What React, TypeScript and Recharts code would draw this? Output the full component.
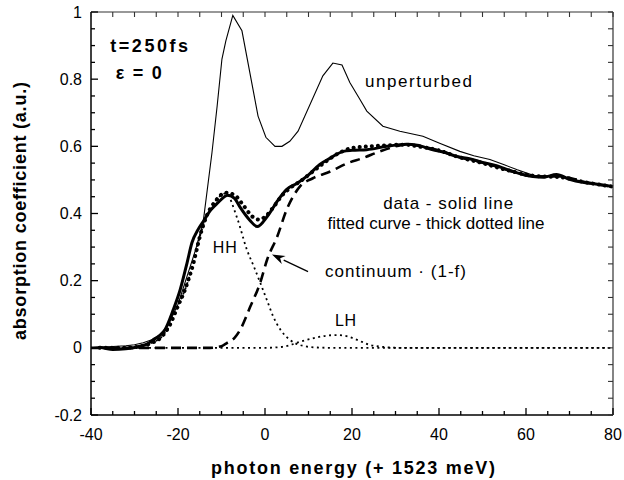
import { LineChart, Line, XAxis, YAxis, ReferenceDot, ReferenceLine } from "recharts";

const FONT = '"Liberation Sans", Arial, Helvetica, sans-serif';

// photon energy (meV above 1523 meV) vs absorption coefficient (a.u.)
const unperturbed: [number, number][] = [
  [-40, 0.0], [-38, 0.003], [-35, 0.004], [-32, 0.006], [-30, 0.009], [-28, 0.015],
  [-26, 0.024], [-24, 0.038], [-22, 0.075], [-20, 0.13], [-18, 0.21], [-16, 0.29],
  [-14.2, 0.376], [-12.2, 0.58], [-11, 0.72], [-9.9, 0.86], [-9, 0.914], [-7.4, 0.99],
  [-5.3, 0.944], [-1.6, 0.69], [0.2, 0.627], [2.3, 0.6], [3.9, 0.6], [5.7, 0.615],
  [7.6, 0.645], [13.3, 0.81], [15.6, 0.848], [17.7, 0.842], [19.5, 0.79], [21.8, 0.74],
  [23.4, 0.705], [27.1, 0.66], [31, 0.645], [36.3, 0.63], [40, 0.61], [44.8, 0.585],
  [48, 0.572], [51.7, 0.561], [55, 0.545], [58, 0.53], [62, 0.512], [65, 0.512],
  [67, 0.516], [70, 0.502], [73, 0.493], [76, 0.489], [80, 0.48],
];

const measured: [number, number][] = [
  [-38, 0.002], [-35, -0.005], [-32, -0.003], [-29, 0.004], [-27, 0.012], [-25.7, 0.024],
  [-24.3, 0.036], [-23, 0.054], [-21.1, 0.113], [-19.5, 0.173], [-17.9, 0.254],
  [-16.8, 0.313], [-15.4, 0.352], [-14.2, 0.376], [-12.5, 0.41], [-11, 0.43],
  [-8.5, 0.454], [-7, 0.445], [-5.7, 0.418], [-3.5, 0.38], [-1.8, 0.361], [0.5, 0.391],
  [3, 0.44], [5, 0.472], [7.4, 0.49], [10, 0.515], [12.6, 0.546], [15, 0.565],
  [18, 0.585], [20, 0.588], [23.4, 0.59], [28, 0.6], [32.6, 0.606], [35, 0.603],
  [38.6, 0.59], [41, 0.583], [44, 0.57], [47, 0.563], [50, 0.552], [53, 0.543],
  [57, 0.525], [61.6, 0.51], [64, 0.508], [67, 0.516], [70, 0.502], [73, 0.493],
  [76, 0.488], [80, 0.48],
];

const fitted: [number, number][] = [
  [-38, 0.0], [-34, 0.0], [-30, 0.002], [-28, 0.006], [-26, 0.015], [-24, 0.03],
  [-22, 0.065], [-20, 0.125], [-18.4, 0.173], [-16.5, 0.25], [-15, 0.33], [-13.5, 0.39],
  [-11.5, 0.435], [-9, 0.462], [-7, 0.455], [-5, 0.425], [-3, 0.392], [-1.5, 0.382],
  [0, 0.39], [2, 0.42], [4, 0.455], [6, 0.478], [8, 0.495], [11, 0.525], [14, 0.555],
  [17, 0.58], [20, 0.595], [24, 0.6], [28, 0.603], [32, 0.605], [36, 0.598],
  [40, 0.588], [44, 0.57], [50, 0.55], [56, 0.528], [62, 0.512], [68, 0.508],
  [74, 0.492], [80, 0.48],
];

const continuum: [number, number][] = [
  [-40, 0], [-20, 0], [-12.6, 0], [-10, 0.005], [-8.7, 0.015], [-7, 0.03], [-5.7, 0.054],
  [-3.4, 0.122], [-1.1, 0.194], [0.5, 0.263], [2.8, 0.331], [5, 0.412], [8, 0.48],
  [11, 0.505], [15, 0.525], [19, 0.55], [22.5, 0.565], [26.4, 0.585], [30, 0.6],
  [33, 0.606], [36, 0.6], [40, 0.588], [44, 0.57], [50, 0.552], [57, 0.525],
  [62, 0.51], [68, 0.51], [74, 0.492], [80, 0.48],
];

const hhExciton: [number, number][] = [
  [-40, 0], [-34, 0], [-30, 0.002], [-28, 0.006], [-26, 0.015], [-24, 0.03], [-22, 0.065],
  [-20, 0.125], [-18.4, 0.173], [-16.5, 0.25], [-15, 0.33], [-13.5, 0.39], [-11.5, 0.435],
  [-9, 0.46], [-6.5, 0.39], [-4.1, 0.29], [-2.5, 0.24], [-1.1, 0.194], [0.5, 0.14],
  [1.9, 0.093], [3.5, 0.055], [5.7, 0.024], [8.7, 0.006], [12, 0.001], [15, 0], [80, 0],
];

const lhExciton: [number, number][] = [
  [-40, 0], [0, 0], [4, 0.003], [6, 0.009], [8, 0.018], [11, 0.028], [14, 0.036],
  [16.6, 0.038], [19, 0.034], [21.5, 0.022], [24, 0.009], [27, 0.003], [31, 0], [80, 0],
];

const xTicks = [-40, -35, -30, -25, -20, -15, -10, -5, 0, 5, 10, 15, 20, 25, 30, 35, 40, 45, 50, 55, 60, 65, 70, 75, 80];
const xLabels = [-40, -20, 0, 20, 40, 60, 80];
const yTicks = [
  -0.2, -0.15, -0.1, -0.05, 0, 0.05, 0.1, 0.15, 0.2, 0.25, 0.3, 0.35, 0.4, 0.45,
  0.5, 0.55, 0.6, 0.65, 0.7, 0.75, 0.8, 0.85, 0.9, 0.95, 1,
];
const yLabels = [-0.2, 0, 0.2, 0.4, 0.6, 0.8, 1];

const X_MIN = -40;
const X_MAX = 80;
const Y_MIN = -0.2;
const Y_MAX = 1;

// chart geometry (plot box = 91..613 x 12..415)
const W = 624;
const H = 480;
const MARGIN = { top: 12, right: 11, bottom: 64, left: 90 };
const LEFT = MARGIN.left + 1;
const RIGHT = W - MARGIN.right;
const TOP = MARGIN.top;
const BOTTOM = H - MARGIN.bottom - 1;
const sx = (v: number) => LEFT + ((v - X_MIN) / (X_MAX - X_MIN)) * (RIGHT - LEFT);
const sy = (v: number) => TOP + ((Y_MAX - v) / (Y_MAX - Y_MIN)) * (BOTTOM - TOP);

const pts = (s: [number, number][]) => s.map(([x, y]) => ({ x, y }));

const isMajor = (list: number[], v: number) => list.some((m) => Math.abs(m - v) < 1e-9);

function bottomLabel(p: any) {
  if (!isMajor(xLabels, p.payload.value)) return <g />;
  return (
    <text x={p.x} y={p.y + 19} textAnchor="middle" dominantBaseline="central" fontSize={16} fontFamily={FONT} fill="#000">
      {p.payload.value}
    </text>
  );
}

function leftLabel(p: any) {
  if (!isMajor(yLabels, p.payload.value)) return <g />;
  return (
    <text x={p.x - 9} y={p.y} textAnchor="end" dominantBaseline="central" fontSize={16} fontFamily={FONT} fill="#000">
      {p.payload.value}
    </text>
  );
}

function note(x: number, y: number, text: string, width: number, opts: { bold?: boolean; size?: number; anchor?: string } = {}) {
  return (
    <ReferenceDot
      x={x}
      y={y}
      r={0}
      shape={(p: any) => (
        <text
          x={p.cx}
          y={p.cy}
          textAnchor={opts.anchor ?? "start"}
          dominantBaseline="central"
          fontSize={opts.size ?? 17}
          fontWeight={opts.bold ? "bold" : "normal"}
          fontFamily={FONT}
          fill="#000"
          textLength={width}
          lengthAdjust="spacing"
        >
          {text}
        </text>
      )}
    />
  );
}

function arrow(p: any) {
  const { x1, y1, x2, y2 } = p;
  const a = Math.atan2(y2 - y1, x2 - x1);
  const L = 13;
  const hw = 4.5;
  const bx = x2 - L * Math.cos(a);
  const by = y2 - L * Math.sin(a);
  const nx = -Math.sin(a) * hw;
  const ny = Math.cos(a) * hw;
  return (
    <g>
      <line x1={x1} y1={y1} x2={bx} y2={by} stroke="#000" strokeWidth={1.3} />
      <polygon
        points={`${x2},${y2} ${bx + nx},${by + ny} ${x2 - L * 0.7 * Math.cos(a)},${y2 - L * 0.7 * Math.sin(a)} ${bx - nx},${by - ny}`}
        fill="#000"
      />
    </g>
  );
}

// frame and inward ticks, drawn on top from the same tick arrays
function Frame() {
  return (
    <g>
      <line x1={LEFT} y1={TOP} x2={RIGHT} y2={TOP} stroke="#333" strokeWidth={1.2} />
      <line x1={RIGHT} y1={TOP} x2={RIGHT} y2={BOTTOM} stroke="#333" strokeWidth={1.2} />
      {xTicks.map((v) => {
        const len = isMajor(xLabels, v) ? 7 : 4;
        return (
          <g key={`x${v}`}>
            <line x1={sx(v)} y1={BOTTOM} x2={sx(v)} y2={BOTTOM - len} stroke="#000" strokeWidth={1.3} />
            <line x1={sx(v)} y1={TOP} x2={sx(v)} y2={TOP + 5} stroke="#333" strokeWidth={1.1} />
          </g>
        );
      })}
      {yTicks.map((v) => {
        const len = isMajor(yLabels, v) ? 7 : 4;
        return (
          <g key={`y${v}`}>
            <line x1={LEFT} y1={sy(v)} x2={LEFT + len} y2={sy(v)} stroke="#000" strokeWidth={1.3} />
            <line x1={RIGHT} y1={sy(v)} x2={RIGHT - 5} y2={sy(v)} stroke="#333" strokeWidth={1.1} />
          </g>
        );
      })}
    </g>
  );
}

export default function App() {
  return (
    <div style={{ position: "absolute", left: 0, top: 0, width: W, height: H, background: "#fff" }}>
      <LineChart width={W} height={H} margin={MARGIN}>
        <XAxis
          dataKey="x"
          type="number"
          domain={[X_MIN, X_MAX]}
          ticks={xTicks}
          interval={0}
          tickSize={0}
          tickMargin={0}
          tickLine={false}
          tick={bottomLabel}
          height={1}
          axisLine={{ stroke: "#000", strokeWidth: 1.5 }}
        />
        <YAxis
          type="number"
          domain={[Y_MIN, Y_MAX]}
          ticks={yTicks}
          interval={0}
          tickSize={0}
          tickMargin={0}
          tickLine={false}
          tick={leftLabel}
          width={1}
          axisLine={{ stroke: "#000", strokeWidth: 1.5 }}
        />

        {/* fit components */}
        <Line data={pts(continuum)} dataKey="y" type="monotone" stroke="#000" strokeWidth={2.6} strokeDasharray="10 6" dot={false} activeDot={false} isAnimationActive={false} />
        <Line data={pts(hhExciton)} dataKey="y" type="monotone" stroke="#000" strokeWidth={1.8} strokeDasharray="2 3.5" dot={false} activeDot={false} isAnimationActive={false} />
        <Line data={pts(lhExciton)} dataKey="y" type="monotone" stroke="#000" strokeWidth={1.8} strokeDasharray="2 3.5" strokeDashoffset={2.5} dot={false} activeDot={false} isAnimationActive={false} />

        {/* unperturbed spectrum: thin polyline */}
        <Line data={pts(unperturbed)} dataKey="y" type="linear" stroke="#000" strokeWidth={1.1} dot={false} activeDot={false} isAnimationActive={false} />

        {/* data (solid) and total fit (thick dotted) */}
        <Line data={pts(measured)} dataKey="y" type="monotone" stroke="#000" strokeWidth={3} dot={false} activeDot={false} isAnimationActive={false} />
        <Line data={pts(fitted)} dataKey="y" type="monotone" stroke="#000" strokeWidth={4} strokeDasharray="0.1 6" strokeLinecap="round" dot={false} activeDot={false} isAnimationActive={false} />

        <ReferenceLine segment={[{ x: 9.9, y: 0.227 }, { x: 1.6, y: 0.278 }]} shape={arrow} />

        {note(-35.6, 0.899, "t=250fs", 78, { bold: true, size: 18 })}
        {note(-34.3, 0.818, "ε = 0", 46, { bold: true, size: 18 })}
        {note(23.0, 0.794, "unperturbed", 107)}
        {note(42.1, 0.43, "data - solid line", 130, { anchor: "middle" })}
        {note(39.3, 0.37, "fitted curve - thick dotted line", 217, { anchor: "middle" })}
        {note(-12.0, 0.2985, "HH", 24, { size: 16 })}
        {note(13.8, 0.227, "continuum · (1-f)", 141)}
        {note(16.1, 0.081, "LH", 21, { size: 16 })}
      </LineChart>
      <svg width={W} height={H} style={{ position: "absolute", left: 0, top: 0, pointerEvents: "none" }}>
        <Frame />
        <text
          x={19.5}
          y={211}
          transform="rotate(-90 19.5 211)"
          textAnchor="middle"
          dominantBaseline="central"
          fontSize={18}
          fontWeight="bold"
          fontFamily={FONT}
          textLength={258}
          lengthAdjust="spacing"
        >
          absorption coefficient (a.u.)
        </text>
        <text
          x={353}
          y={468}
          textAnchor="middle"
          dominantBaseline="central"
          fontSize={18}
          fontWeight="bold"
          fontFamily={FONT}
          textLength={284}
          lengthAdjust="spacing"
        >
          photon energy (+ 1523 meV)
        </text>
      </svg>
    </div>
  );
}
